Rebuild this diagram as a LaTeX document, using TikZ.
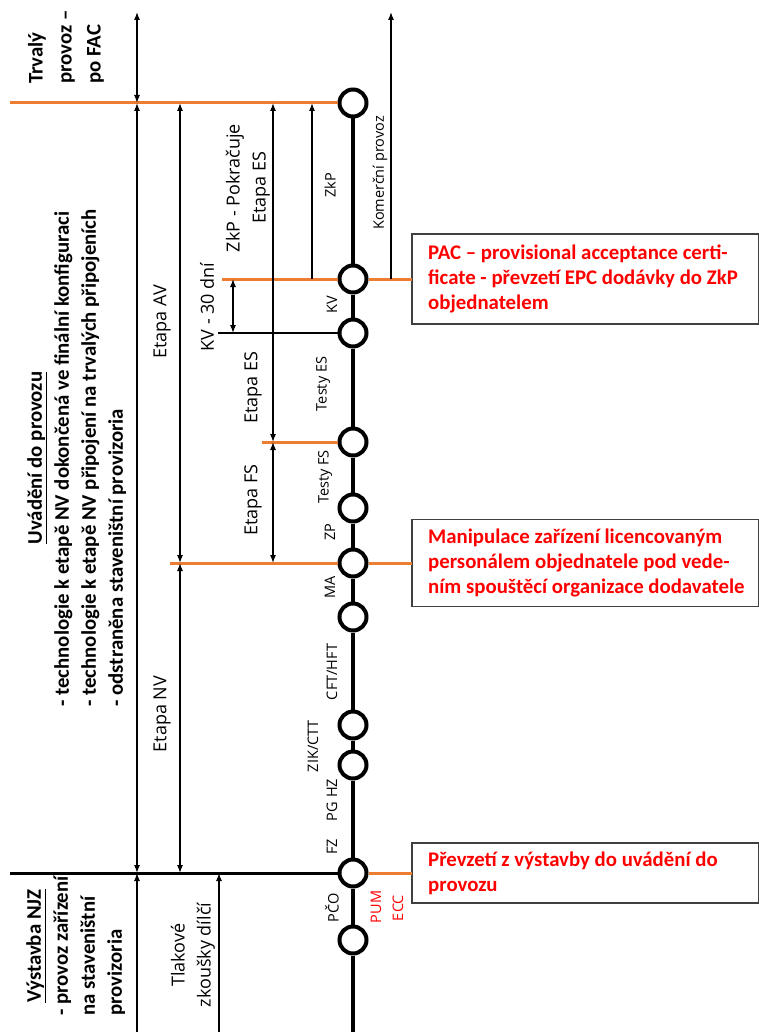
\documentclass[tikz,border=0pt]{standalone}
\usepackage{fontspec}
\setmainfont{Open Sans}
\newfontfamily\calib{Carlito}
\usetikzlibrary{arrows.meta}
\definecolor{orng}{HTML}{ED7D31}
\definecolor{rd}{HTML}{FF0000}
\definecolor{boxgray}{HTML}{404040}
\begin{document}
\begin{tikzpicture}[x=1pt,y=-1pt,
  ms/.style={circle,draw=black,line width=4pt,minimum size=27pt,inner sep=0pt,fill=white},
  mainline/.style={line width=4.5pt},
  orl/.style={draw=orng,line width=3pt},
  thinl/.style={line width=1.2pt},
  dim/.style={thinl,{Latex[length=8pt,width=6pt]}-{Latex[length=8pt,width=6pt]}},
  upar/.style={thinl,-{Latex[length=8pt,width=6pt]}},
  lab/.style={rotate=90,inner sep=0pt,font=\fontsize{18}{26}\selectfont},
  tl/.style={rotate=90,inner sep=0pt,font=\fontsize{14.5}{18}\selectfont},
  bl/.style={rotate=90,inner sep=0pt,font=\calib\bfseries\fontsize{20.8}{27}\selectfont},
  rbox/.style={draw=boxgray,line width=1.3pt,minimum width=347pt,anchor=north west,inner sep=0pt,outer sep=0pt},
  rtext/.style={anchor=west,align=left,inner sep=0pt,text=rd,font=\calib\bfseries\fontsize{20.8}{25}\selectfont},
]
\useasboundingbox[fill=white] (0,0) rectangle (758,1032);

% milestones
\node[ms] (c1) at (353,103) {};
\node[ms] (c2) at (353,279) {};
\node[ms] (c3) at (353,333) {};
\node[ms] (c4) at (353,442) {};
\node[ms] (c5) at (353,508) {};
\node[ms] (c6) at (353,563) {};
\node[ms] (c7) at (353,617) {};
\node[ms] (c8) at (353,725) {};
\node[ms] (c9) at (353,765) {};
\node[ms] (c10) at (353,873) {};
\node[ms] (c11) at (353,940) {};
\coordinate (mbot) at (353,1032);

\foreach \a/\b in {c1/c2,c2/c3,c3/c4,c4/c5,c5/c6,c6/c7,c7/c8,c8/c9,c9/c10,c10/c11}
  \draw[mainline] (\a) -- (\b);
\draw[mainline] (c11) -- (mbot);

% red boxes
\node[rbox,minimum height=90pt] (box1) at (412,234) {};
\node[rbox,minimum height=87pt] (box2) at (412,519.5) {};
\node[rbox,minimum height=60pt] (box3) at (412,843) {};
\node[rtext] (t1) at ([xshift=16pt]box1.west) {PAC – provisional acceptance certi-\\ficate - převzetí EPC dodávky do ZkP\\objednatelem};
\node[rtext] (t2) at ([xshift=16pt]box2.west) {Manipulace zařízení licencovaným\\personálem objednatele pod vede-\\ním spouštěcí organizace dodavatele};
\node[rtext] (t3) at ([xshift=16pt]box3.west) {Převzetí z výstavby do uvádění do\\provozu};

% horizontal lines
\coordinate (o1) at (10,103);
\coordinate (o2) at (222,279);
\coordinate (k3) at (218,333);
\coordinate (o4) at (262,442);
\coordinate (o6) at (170,563);
\coordinate (h10) at (10,873);
\draw[orl] (o1) -- (c1.west);
\draw[orl] (o2) -- (c2.west);
\draw[orl] (c2.east) -- (box1.west);
\draw[thinl] (k3) -- (c3.west);
\draw[orl] (o4) -- (c4.west);
\draw[orl] (o6) -- (c6.west);
\draw[orl] (c6.east) -- (box2.west);
\draw[line width=3pt] (h10) -- (c10.west);
\draw[orl] (c10.east) -- (box3.west);

% vertical dimension arrows
\coordinate (xA) at (137,12);
\coordinate (xAb) at (137,1032);
\coordinate (xB) at (180,0);
\coordinate (xC) at (273,0);
\coordinate (xD) at (233,0);
\coordinate (xE) at (312,0);
\coordinate (xK) at (391,12);
\coordinate (xT) at (219,1032);
\draw[dim] (xA) -- (xA |- c1);
\draw[dim] (xA |- c1) -- (xA |- c10);
\draw[upar] (xAb) -- (xAb |- c10);
\draw[dim] (xB |- c1) -- (xB |- c6);
\draw[dim] (xB |- c6) -- (xB |- c10);
\draw[dim] (xC |- c1) -- (xC |- c4);
\draw[dim] (xC |- c4) -- (xC |- c6);
\draw[dim] (xD |- c2) -- (xD |- c3);
\draw[upar] (xE |- c2) -- (xE |- c1);
\draw[upar] (xK |- c2) -- (xK);
\draw[upar] (xT) -- (xT |- c10);

% labels
\node[lab] (lAV) at (162,322) {Etapa AV};
\node[lab] (lNV) at (162,714) {Etapa NV};
\node[lab] (lKV30) at (207,307) {KV - 30 dní};
\node[lab,align=center] (lZkPP) at (248,188) {ZkP - Pokračuje\\Etapa ES};
\node[lab] (lES) at (253,388) {Etapa ES};
\node[lab] (lFS) at (253,500) {Etapa FS};
\node[lab,align=center] (lTl) at (193,955) {Tlakové\\zkoušky dílčí};

\node[tl] (nZkP) at (330,185) {ZkP};
\node[tl] (nKV) at (332,305) {KV};
\node[tl] (nTES) at (323,384) {Testy ES};
\node[tl] (nTFS) at (325,477) {Testy FS};
\node[tl] (nZP) at (330,532) {ZP};
\node[tl] (nMA) at (330,587) {MA};
\node[tl] (nCFT) at (332,672) {CFT/HFT};
\node[tl] (nZIK) at (313,746) {ZIK/CTT};
\node[tl] (nPG) at (332,800) {PG HZ};
\node[tl] (nFZ) at (332,847) {FZ};
\node[tl] (nPCO) at (332,908) {PČO};
\node[tl,text=rd] (nPUM) at (376,907) {PUM};
\node[tl,text=rd] (nECC) at (398,908) {ECC};
\node[tl] (nKom) at (380,173) {Komerční provoz};

% bold blocks
\node[bl,anchor=west,align=left,font=\calib\bfseries\fontsize{20.8}{29}\selectfont] (trv) at (66,84) {Trvalý\\provoz –\\po FAC};
\node[bl] (uvd) at (77,458) {\begin{tabular}{@{}l@{}}\multicolumn{1}{@{}c@{}}{\underline{Uvádění do provozu}}\\- technologie k etapě NV dokončená ve finální konfiguraci\\- technologie k etapě NV připojení na trvalých připojeních\\- odstraněna staveništní provizoria\end{tabular}};
\node[bl] (vyst) at (76,946) {\begin{tabular}{@{}l@{}}\multicolumn{1}{@{}c@{}}{\underline{Výstavba NJZ}}\\- provoz zařízení\\na staveništní\\provizoria\end{tabular}};
\end{tikzpicture}
\end{document}
